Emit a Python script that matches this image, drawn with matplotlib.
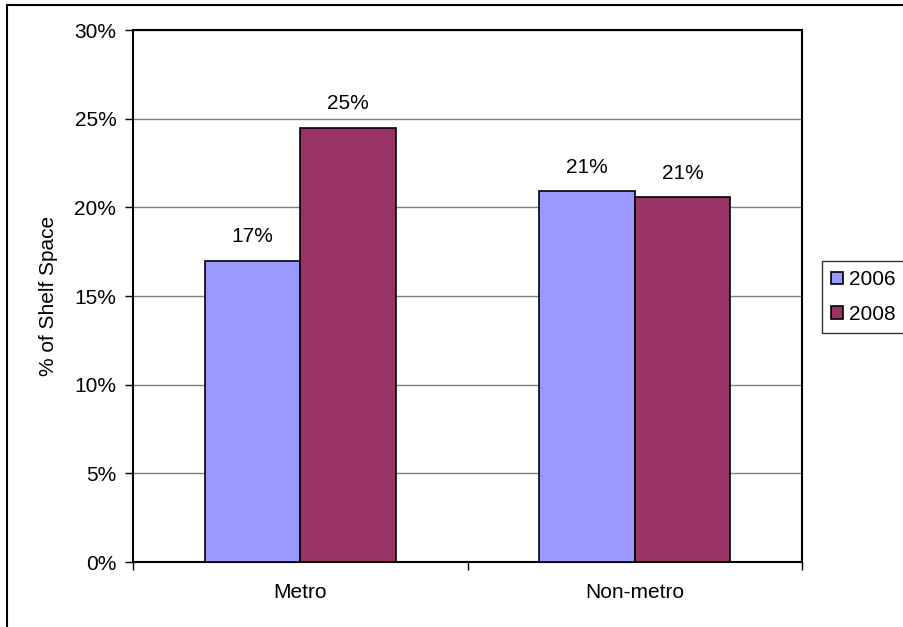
import matplotlib
matplotlib.use("Agg")
import matplotlib.pyplot as plt
from matplotlib.patches import Rectangle
import numpy as np

plt.rcParams['font.family'] = ['Liberation Sans', 'DejaVu Sans']

categories = ["Metro", "Non-metro"]
years = ["2006", "2008"]
values_2006 = [0.17, 0.209]
values_2008 = [0.245, 0.206]
labels_2006 = ["17%", "21%"]
labels_2008 = ["25%", "21%"]
colors = ["#9999FF", "#993366"]

FS = 15
W, H = 904, 627
fig = plt.figure(figsize=(W / 100, H / 100), dpi=100)

# outer chart frame (runs off the right and bottom edges)
fig.patches.append(Rectangle((7 / W, -0.05), 1.1, 1 - 4.5 / H + 0.05,
                             transform=fig.transFigure, fill=False,
                             edgecolor="black", linewidth=1.5))

left, right, top, bottom = 133, 802, 30, 562
ax = fig.add_axes([left / W, 1 - bottom / H, (right - left) / W, (bottom - top) / H])

x = np.arange(len(categories))
bw = 1 / 3.5
series = [values_2006, values_2008]
labels = [labels_2006, labels_2008]
for i, (vals, labs) in enumerate(zip(series, labels)):
    pos = x + (i - 0.5) * bw
    bars = ax.bar(pos, vals, width=bw, color=colors[i], edgecolor="black",
                  linewidth=1.2, label=years[i], zorder=3)
    for b, v, t in zip(bars, vals, labs):
        ax.text(b.get_x() + b.get_width() / 2, v + 0.008, t, ha="center",
                va="bottom", fontsize=FS, zorder=4)

ax.set_xlim(-0.5, 1.5)
ax.set_ylim(0, 0.30)
yt = np.arange(0, 0.301, 0.05)
ax.set_yticks(yt)
ax.set_yticklabels([f"{int(round(v * 100))}%" for v in yt], fontsize=FS)
ax.set_xticks(x)
ax.set_xticklabels(categories, fontsize=FS)
ax.set_xticks([-0.5, 0.5, 1.5], minor=True)
ax.tick_params(axis="x", which="major", length=0, pad=15)
ax.tick_params(axis="x", which="minor", length=6, direction="out", width=1)
ax.tick_params(axis="y", length=6, direction="out", width=1, pad=6)
ax.yaxis.grid(True, color="#808080", linewidth=1, zorder=0)
for s in ax.spines.values():
    s.set_linewidth(1.5)
    s.set_color("black")
ax.set_ylabel("% of Shelf Space", fontsize=FS, labelpad=12)

leg = ax.legend(loc="upper left", bbox_to_anchor=(822 / W, 1 - 261 / H),
                bbox_transform=fig.transFigure, fontsize=FS, frameon=True,
                fancybox=False, edgecolor="black", handlelength=0.55,
                handleheight=0.55, handletextpad=0.3, borderpad=0.45,
                labelspacing=0.75, borderaxespad=0)
leg.get_frame().set_linewidth(1)

fig.savefig("out.png", dpi=100)
